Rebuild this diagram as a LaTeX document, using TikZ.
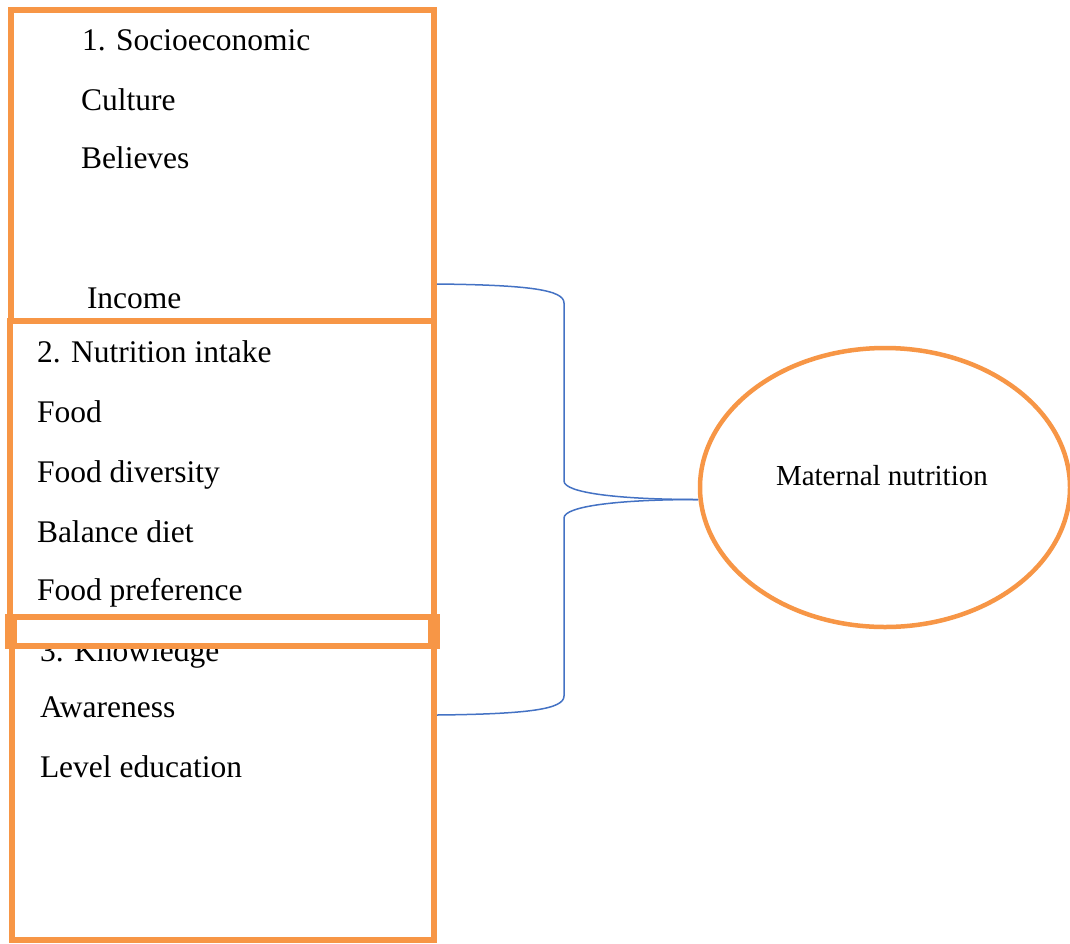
\documentclass[tikz,border=0pt]{standalone}
\usepackage{fontspec}
\setmainfont{Liberation Serif}
\usetikzlibrary{shapes.geometric}
\definecolor{boxorange}{HTML}{F79646}
\definecolor{linkblue}{HTML}{4472C4}
\begin{document}
\begin{tikzpicture}[x=1pt,y=-1pt,
  boxline/.style={draw=boxorange,line width=6pt},
  label/.style={anchor=base west,inner sep=0pt,outer sep=0pt,font=\fontsize{31.5}{38}\selectfont},
  smalllabel/.style={anchor=base west,inner sep=0pt,outer sep=0pt,font=\fontsize{29}{34}\selectfont},
  link/.style={draw=linkblue,line width=1.5pt}]
\useasboundingbox (0,0) rectangle (1070,943);
\fill[white] (0,0) rectangle (1070,943);
% boxes
\draw[boxline] (11,10) rectangle (433.5,321);
\draw[boxline] (10,321) rectangle (433.5,630);
\draw[boxline] (12,630) rectangle (434,940);
% texts
\node[label] (t1) at (82,50) {1. Socioeconomic};
\node[label] (t2) at (81,110) {Culture};
\node[label] (t3) at (81,168) {Believes};
\node[label] (t4) at (87,308) {Income};
\node[label] (n1) at (37,362) {2. Nutrition intake};
\node[label] (n2) at (37,422) {Food};
\node[label] (n3) at (37,482) {Food diversity};
\node[label] (n4) at (37,542) {Balance diet};
\node[label] (n5) at (37,600) {Food preference};
\node[label] (k1) at (40,661) {3. Knowledge};
\node[label] (k2) at (40,717) {Awareness};
\node[label] (k3) at (40,777) {Level education};
% thick separator box
\fill[boxorange] (5,614) rectangle (440,648.5);
\fill[white] (17,620) rectangle (428,642.5);
% ellipse
\node[draw=boxorange,line width=4.5pt,ellipse,minimum width=370pt,minimum height=279pt,inner sep=0pt] (mn) at (885,487.5) {};
\node[smalllabel] (mt) at (776,485) {Maternal nutrition};
% brace connector
\coordinate (a) at (437,284);
\coordinate (b) at (437,715);
\coordinate (tip) at (698,499.5);
\draw[link] (a) .. controls (530,285) and (564,290) .. (564,303) -- (564,481)
  .. controls (564,493) and (620,499.5) .. (tip);
\draw[link] (b) .. controls (530,714) and (564,709) .. (564,696) -- (564,518)
  .. controls (564,506) and (620,499.5) .. (tip);
\end{tikzpicture}
\end{document}
